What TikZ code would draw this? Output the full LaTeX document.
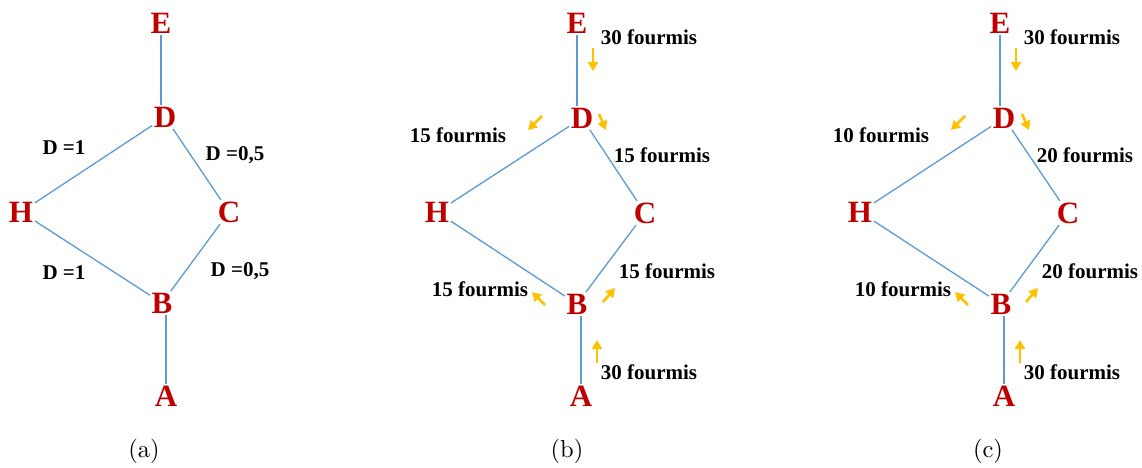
\documentclass[tikz,border=0pt]{standalone}
\usepackage{fontspec}
\newfontfamily\tnr{Liberation Serif}
\newfontfamily\lmten{lmroman10-regular}[Extension=.otf]
\usetikzlibrary{arrows.meta}
\definecolor{vred}{RGB}{192,0,0}
\definecolor{eblue}{RGB}{91,155,213}
\definecolor{aorange}{RGB}{255,192,0}
\tikzset{
  vtx/.style={font=\tnr\bfseries\fontsize{31}{31}\selectfont, text=vred, inner sep=1.5pt},
  lbl/.style={font=\tnr\bfseries\fontsize{21}{21}\selectfont, inner sep=0pt},
  edge/.style={draw=eblue, line width=1.3pt},
  flow/.style={draw=aorange, line width=2.6pt, -{Triangle[length=9pt,width=10pt]}},
  captxt/.style={font=\lmten\fontsize{24.5}{24.5}\selectfont, inner sep=0pt}
}
\begin{document}
\begin{tikzpicture}[x=1pt,y=-1pt]
\useasboundingbox (0,0) rectangle (1142,467);
% ---------- panel (a)
\node[vtx] (aE) at (161,23) {E};
\node[vtx] (aD) at (165,117) {D};
\node[vtx] (aH) at (21,212) {H};
\node[vtx] (aC) at (229,212) {C};
\node[vtx] (aB) at (162,303) {B};
\node[vtx] (aA) at (166,396) {A};
\draw[edge] (aE.south) -- (aE.south |- aD.north);
\draw[edge] (aD) -- (aH);
\draw[edge] (aD) -- (aC);
\draw[edge] (aH) -- (aB);
\draw[edge] (aC) -- (aB);
\draw[edge] (aB.south -| aA.north) -- (aA.north);
\node[lbl] (al1) at (64,148) {D =1};
\node[lbl] (al2) at (235,155) {D =0,5};
\node[lbl] (al3) at (64,273) {D =1};
\node[lbl] (al4) at (240,271) {D =0,5};
\node[captxt] (acap) at (144,451) {(a)};
% ---------- panel (b)
\node[vtx] (bE) at (577,23) {E};
\node[vtx] (bD) at (582,118) {D};
\node[vtx] (bH) at (437,212) {H};
\node[vtx] (bC) at (645,213) {C};
\node[vtx] (bB) at (577,304) {B};
\node[vtx] (bA) at (581,396) {A};
\draw[edge] (bE.south) -- (bE.south |- bD.north);
\draw[edge] (bD) -- (bH);
\draw[edge] (bD) -- (bC);
\draw[edge] (bH) -- (bB);
\draw[edge] (bC) -- (bB);
\draw[edge] (bB.south -| bA.north) -- (bA.north);
\node[lbl] (bl1) at (649,37) {30 fourmis};
\node[lbl] (bl2) at (458,135) {15 fourmis};
\node[lbl] (bl3) at (662,155) {15 fourmis};
\node[lbl] (bl4) at (667,271) {15 fourmis};
\node[lbl] (bl5) at (480,289) {15 fourmis};
\node[lbl] (bl6) at (649,372) {30 fourmis};
\coordinate (bf1s) at (593,48);  \coordinate (bf1e) at (593,71);
\coordinate (bf2s) at (542,116); \coordinate (bf2e) at (528,130);
\coordinate (bf3s) at (599,114); \coordinate (bf3e) at (606,130);
\coordinate (bf4s) at (603,302); \coordinate (bf4e) at (615,288);
\coordinate (bf5s) at (545,305); \coordinate (bf5e) at (532,292);
\coordinate (bf6s) at (597,363); \coordinate (bf6e) at (597,340);
\foreach \i in {1,...,6} \draw[flow] (bf\i s) -- (bf\i e);
\node[captxt] (bcap) at (567,451) {(b)};
% ---------- panel (c)
\begin{scope}[shift={(423,0)}]
\node[vtx] (cE) at (577,23) {E};
\node[vtx] (cD) at (581,118) {D};
\node[vtx] (cH) at (437,212) {H};
\node[vtx] (cC) at (645,213) {C};
\node[vtx] (cB) at (578,304) {B};
\node[vtx] (cA) at (581,396) {A};
\draw[edge] (cE.south) -- (cE.south |- cD.north);
\draw[edge] (cD) -- (cH);
\draw[edge] (cD) -- (cC);
\draw[edge] (cH) -- (cB);
\draw[edge] (cC) -- (cB);
\draw[edge] (cB.south -| cA.north) -- (cA.north);
\node[lbl] (cl1) at (649,37) {30 fourmis};
\node[lbl] (cl2) at (458,135) {10 fourmis};
\node[lbl] (cl3) at (662,155) {20 fourmis};
\node[lbl] (cl4) at (667,271) {20 fourmis};
\node[lbl] (cl5) at (480,289) {10 fourmis};
\node[lbl] (cl6) at (649,372) {30 fourmis};
\coordinate (cf1s) at (593,48);  \coordinate (cf1e) at (593,71);
\coordinate (cf2s) at (542,116); \coordinate (cf2e) at (528,130);
\coordinate (cf3s) at (599,114); \coordinate (cf3e) at (606,130);
\coordinate (cf4s) at (603,302); \coordinate (cf4e) at (615,288);
\coordinate (cf5s) at (545,305); \coordinate (cf5e) at (532,292);
\coordinate (cf6s) at (597,363); \coordinate (cf6e) at (597,340);
\foreach \i in {1,...,6} \draw[flow] (cf\i s) -- (cf\i e);
\node[captxt] (ccap) at (565,451) {(c)};
\end{scope}
\end{tikzpicture}
\end{document}
